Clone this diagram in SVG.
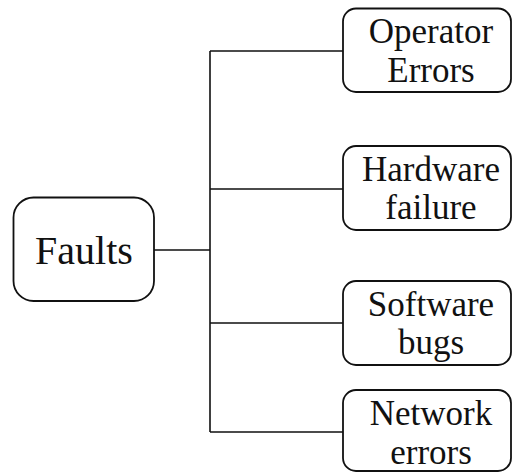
<svg xmlns="http://www.w3.org/2000/svg" width="512" height="472" viewBox="0 0 512 472">
<style>
.box{fill:#fff;stroke:#111;stroke-width:1.8}
.ln{fill:none;stroke:#111;stroke-width:1.6}
.t{font-family:"Liberation Serif","Times New Roman",serif;fill:#111;text-anchor:middle}
.c{font-size:35px}
.r{font-size:40px}
</style>
<rect width="512" height="472" fill="#fff"/>
<g id="connectors">
<path class="ln" d="M154 250H210M210 51V432M210 51H343M210 189H343M210 323H343M210 432H343"/>
</g>
<g id="faults">
<rect class="box" x="13.5" y="197.5" width="140.5" height="103.5" rx="20"/>
<text class="t r" x="84" y="264">Faults</text>
</g>
<g id="operator-errors">
<rect class="box" x="343" y="8.5" width="168" height="83.5" rx="13"/>
<text class="t c" x="431" y="43">Operator</text>
<text class="t c" x="431" y="81.5">Errors</text>
</g>
<g id="hardware-failure">
<rect class="box" x="343" y="146" width="168" height="84" rx="13"/>
<text class="t c" x="431" y="180.5">Hardware</text>
<text class="t c" x="431" y="218.5">failure</text>
</g>
<g id="software-bugs">
<rect class="box" x="343" y="281" width="168" height="84" rx="13"/>
<text class="t c" x="431" y="315.5">Software</text>
<text class="t c" x="431" y="353.5">bugs</text>
</g>
<g id="network-errors">
<rect class="box" x="343" y="390" width="168" height="81" rx="13"/>
<text class="t c" x="431" y="425">Network</text>
<text class="t c" x="431" y="463.5">errors</text>
</g>
</svg>
